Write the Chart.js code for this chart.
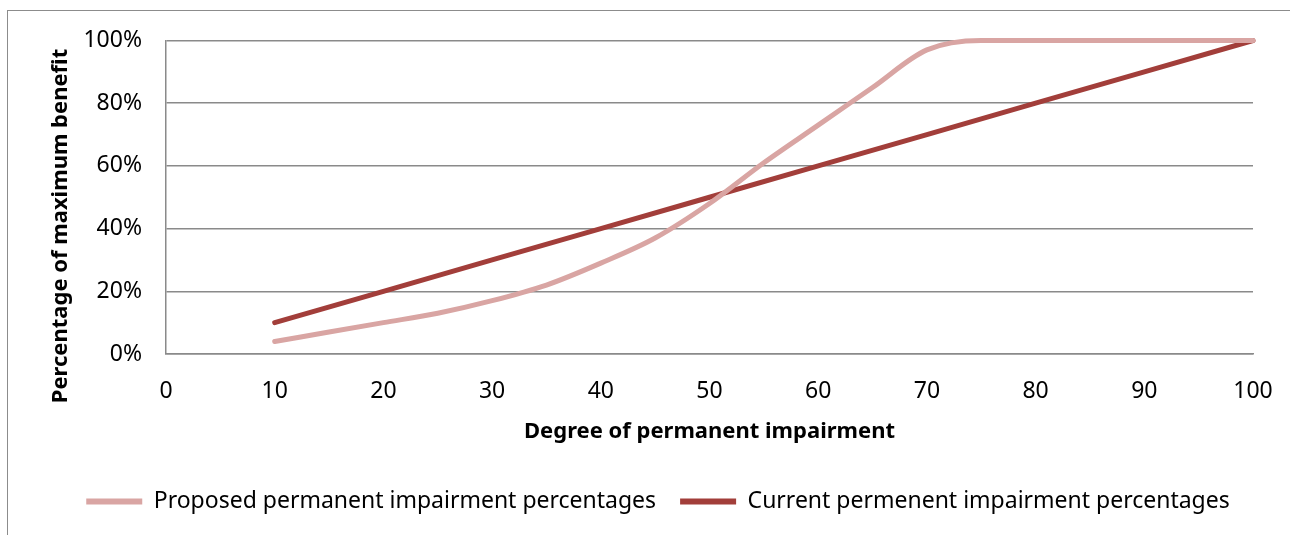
<!DOCTYPE html>
<html>
<head>
<meta charset="utf-8">
<script src="https://cdn.jsdelivr.net/npm/chart.js@4"></script>
<style>
  html, body { margin: 0; padding: 0; background: #fff; overflow: hidden; }
  #frame {
    position: absolute; left: 7px; top: 10px;
    width: 1300px; height: 540px;
    border: 1.5px solid #8c8c8c; background: #fff;
  }
  #chart { display: block; }
</style>
</head>
<body>
<div id="frame"><canvas id="chart" width="1300" height="530"></canvas></div>
<script>
// degree of permanent impairment (x)
const proposedDegrees = [10, 15, 20, 25, 30, 35, 40, 45, 50, 55, 60, 65, 70, 75, 80, 85, 90, 95, 100];
const proposedPercent = [4, 7, 10, 13, 17, 22, 29, 37, 48, 61, 73, 85, 97, 100, 100, 100, 100, 100, 100];

const currentDegrees = [10, 20, 30, 40, 50, 60, 70, 80, 90, 100];
const currentPercent = [10, 20, 30, 40, 50, 60, 70, 80, 90, 100];

const xTicks = [0, 10, 20, 30, 40, 50, 60, 70, 80, 90, 100];
const yTicks = [0, 20, 40, 60, 80, 100];

const seriesNames = ['Proposed permanent impairment percentages', 'Current permenent impairment percentages'];
const seriesColors = ['#d9a5a3', '#a23e3a'];

const FONT = 'Noto Sans';
const gridGray = '#8a8a8a';

function toPoints(xs, ys) {
  return xs.map((x, i) => ({ x, y: ys[i] }));
}

// y title is drawn by hand so it can sit where Excel puts it
const yTitlePlugin = {
  id: 'yTitle',
  afterDraw(chart) {
    const ctx = chart.ctx;
    ctx.save();
    ctx.translate(53, 215);
    ctx.rotate(-Math.PI / 2);
    ctx.font = `bold 22px "${FONT}"`;
    ctx.fillStyle = '#000';
    ctx.textAlign = 'center';
    ctx.textBaseline = 'middle';
    ctx.fillText('Percentage of maximum benefit', 0, 0);
    ctx.restore();
  }
};

new Chart(document.getElementById('chart'), {
  type: 'line',
  data: {
    datasets: [
      {
        label: seriesNames[0],
        data: toPoints(proposedDegrees, proposedPercent),
        borderColor: seriesColors[0],
        backgroundColor: seriesColors[0],
        borderWidth: 5,
        pointRadius: 0,
        cubicInterpolationMode: 'monotone',
        borderCapStyle: 'round',
        clip: false
      },
      {
        label: seriesNames[1],
        data: toPoints(currentDegrees, currentPercent),
        borderColor: seriesColors[1],
        backgroundColor: seriesColors[1],
        borderWidth: 5,
        pointRadius: 0,
        tension: 0,
        borderCapStyle: 'round',
        clip: false
      }
    ]
  },
  options: {
    responsive: false,
    animation: false,
    layout: { padding: { top: 29.5, right: 0, left: 0, bottom: 18 } },
    plugins: {
      tooltip: { enabled: false },
      legend: {
        position: 'bottom',
        labels: {
          color: '#000',
          font: { family: FONT, size: 23 },
          boxWidth: 56,
          boxHeight: 6,
          padding: 24,
          // flat swatch, no outline, like the line sample in Excel
          generateLabels: chart => Chart.defaults.plugins.legend.labels.generateLabels(chart)
            .map(item => ({ ...item, lineWidth: 0 }))
        }
      }
    },
    scales: {
      x: {
        type: 'linear',
        min: 0,
        max: 100,
        afterBuildTicks: scale => { scale.ticks = xTicks.map(v => ({ value: v })); },
        grid: { display: false, drawTicks: false },
        border: { color: gridGray, width: 1.5 },
        ticks: { color: '#000', font: { family: FONT, size: 23 }, padding: 24 },
        title: {
          display: true,
          text: 'Degree of permanent impairment',
          color: '#000',
          font: { family: FONT, size: 22, weight: 'bold' },
          padding: { top: 8, bottom: 21 }
        },
        afterFit: scale => { scale.height = 112; }
      },
      y: {
        min: 0,
        max: 100,
        afterBuildTicks: scale => { scale.ticks = yTicks.map(v => ({ value: v })); },
        grid: { color: gridGray, lineWidth: 1.5, drawTicks: false },
        border: { color: gridGray, width: 1.5 },
        ticks: {
          color: '#000',
          font: { family: FONT, size: 23 },
          padding: 24,
          callback: v => v + '%'
        },
        afterFit: scale => {
          scale.width = 158;
          scale.paddingTop = 0;
          scale.paddingBottom = 0;
        }
      },
      // empty right-hand strip so the legend centres on the whole frame
      yRight: {
        position: 'right',
        min: 0,
        max: 100,
        grid: { display: false, drawTicks: false },
        border: { display: false },
        ticks: { display: false },
        afterFit: scale => { scale.width = 55; }
      }
    }
  },
  plugins: [yTitlePlugin]
});
</script>
</body>
</html>
